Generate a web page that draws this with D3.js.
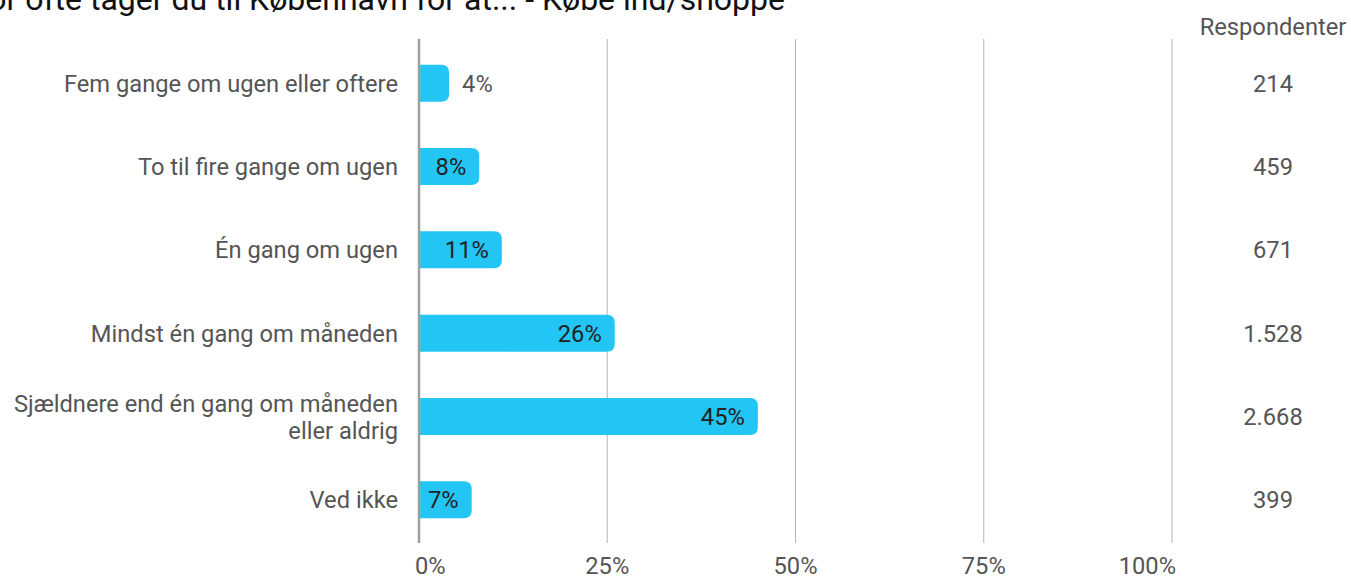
<!DOCTYPE html>
<html><head><meta charset="utf-8">
<script src="https://cdn.jsdelivr.net/npm/d3@7"></script>
<style>
html,body{margin:0;padding:0;background:#fff;overflow:hidden}
text{font-family:Roboto,"Noto Sans",sans-serif}
</style></head>
<body><svg id="c" width="1351" height="577"></svg>
<script>
const title = "Hvor ofte tager du til København for at... - Købe ind/shoppe";
const categories = ["Fem gange om ugen eller oftere","To til fire gange om ugen","Én gang om ugen","Mindst én gang om måneden","Sjældnere end én gang om måneden\neller aldrig","Ved ikke"];
const percents = [4, 8, 11, 26, 45, 7];
const respondents = ["214","459","671","1.528","2.668","399"];
const ticks = [0, 25, 50, 75, 100];
const respHeader = "Respondenter";

const svg = d3.select("#c");
const x = d3.scaleLinear().domain([0,100]).range([419,1172]);
const y = d3.scaleBand().domain(categories).range([41.5,541.5]).paddingInner(0.556).paddingOuter(0.278);
const fs = 23.7;

svg.append("text").attr("x",785).attr("y",10).attr("text-anchor","end")
  .attr("font-size",32).attr("fill","#111").text(title);

// gridlines
svg.append("g").selectAll("line").data(ticks.filter(t=>t>0)).join("line")
  .attr("x1",d=>x(d)).attr("x2",d=>x(d)).attr("y1",39).attr("y2",543)
  .attr("stroke","#b5b5b5").attr("stroke-width",1);

// tick labels
svg.append("g").selectAll("text").data(ticks).join("text")
  .attr("x",d=> d===0 ? x(d)-4 : d===100 ? x(d)+4 : x(d))
  .attr("text-anchor",d=> d===0 ? "start" : d===100 ? "end" : "middle")
  .attr("y",574).attr("font-size",fs).attr("fill","#555").text(d=>d+"%");

// bars: square left, rounded right
const r = 8;
svg.append("g").selectAll("path").data(categories).join("path")
  .attr("fill","#22c5f3")
  .attr("d",(d,i)=>{
    const x0=x(0), x1=x(percents[i]), y0=y(d), h=y.bandwidth();
    const rr=Math.min(r,(x1-x0));
    return `M${x0},${y0}H${x1-rr}Q${x1},${y0} ${x1},${y0+rr}V${y0+h-rr}Q${x1},${y0+h} ${x1-rr},${y0+h}H${x0}Z`;
  });

// axis line
svg.append("line").attr("x1",x(0)).attr("x2",x(0)).attr("y1",39).attr("y2",543)
  .attr("stroke","#9e9e9e").attr("stroke-width",2.5);

// value labels
svg.append("g").selectAll("text").data(categories).join("text")
  .attr("y",d=>y(d)+y.bandwidth()/2).attr("dy","0.36em").attr("font-size",fs)
  .attr("x",(d,i)=> percents[i]<6 ? x(percents[i])+13 : x(percents[i])-13)
  .attr("text-anchor",(d,i)=> percents[i]<6 ? "start" : "end")
  .attr("fill",(d,i)=> percents[i]<6 ? "#555" : "#222")
  .text((d,i)=>percents[i]+"%");

// category labels
const cl = svg.append("g").selectAll("text").data(categories).join("text")
  .attr("x",398).attr("text-anchor","end").attr("font-size",fs).attr("fill","#555");
cl.each(function(d){
  const lines=d.split("\n"), t=d3.select(this), cy=y(d)+y.bandwidth()/2, lh=27;
  lines.forEach((l,k)=>{
    t.append("tspan").attr("x",398).attr("y",cy+(k-(lines.length-1)/2)*lh).attr("dy","0.36em").text(l);
  });
});

// respondents
svg.append("text").attr("x",1273).attr("y",35).attr("text-anchor","middle")
  .attr("font-size",fs).attr("fill","#555").text(respHeader);
svg.append("g").selectAll("text").data(categories).join("text")
  .attr("x",1273).attr("text-anchor","middle").attr("y",d=>y(d)+y.bandwidth()/2).attr("dy","0.36em")
  .attr("font-size",fs).attr("fill","#555").text((d,i)=>respondents[i]);
</script></body></html>
